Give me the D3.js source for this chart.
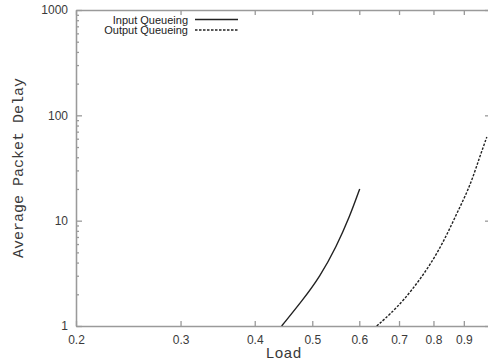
<!DOCTYPE html>
<html>
<head>
<meta charset="utf-8">
<script src="https://cdn.jsdelivr.net/npm/d3@7"></script>
<style>
  body { margin: 0; background: #fff; }
  svg { display: block; }
  .tick text { font-family: "Liberation Sans", Arial, sans-serif; font-size: 12px; fill: #3a3a3a; }
  .axis path, .axis line { stroke: #9a9a9a; stroke-width: 1.3; }
  .title { font-family: "Courier New", "Liberation Mono", monospace; font-size: 15px; fill: #3a3a3a; }
  .legend { font-family: "Liberation Sans", Arial, sans-serif; font-size: 11px; fill: #222; }
</style>
</head>
<body>
<div id="chart"></div>
<script>
// values
let inputLoad = [0.444, 0.482, 0.515, 0.549, 0.578, 0.601]
let inputDelay = [1, 1.77, 2.94, 5.66, 10.9, 20]

let outputLoad = [0.642, 0.71, 0.81, 0.876, 0.921, 0.957, 0.984]
let outputDelay = [1, 1.65, 4.52, 11.8, 20.9, 40.3, 62.3]

let xTicks = [0.2, 0.3, 0.4, 0.5, 0.6, 0.7, 0.8, 0.9]
let yTicks = [1, 10, 100, 1000]
let seriesNames = ['Input Queueing', 'Output Queueing']

let width = 488
let height = 364
let plotLeft = 76, plotRight = 491, plotTop = 10, plotBottom = 326

let svg = d3.select('#chart').append('svg')
  .attr('width', width)
  .attr('height', height)

let x = d3.scaleLog().domain([0.2, 1]).range([plotLeft, plotRight])
let y = d3.scaleLog().domain([1, 1000]).range([plotBottom, plotTop])

// minor y ticks 2..9 in each decade
let yMinor = []
for (let d = 1; d < 1000; d *= 10) {
  for (let k = 2; k <= 9; k++) yMinor.push(d * k)
}

// bottom axis
svg.append('g')
  .attr('class', 'axis')
  .attr('transform', 'translate(0,' + plotBottom + ')')
  .call(d3.axisBottom(x).tickValues(xTicks).tickFormat(d3.format('.1f'))
    .tickSize(-5).tickSizeOuter(0).tickPadding(9))

// top axis (ticks only)
svg.append('g')
  .attr('class', 'axis')
  .attr('transform', 'translate(0,' + plotTop + ')')
  .call(d3.axisTop(x).tickValues(xTicks).tickFormat('').tickSize(-5).tickSizeOuter(0))

// left axis
svg.append('g')
  .attr('class', 'axis')
  .attr('transform', 'translate(' + plotLeft + ',0)')
  .call(d3.axisLeft(y).tickValues(yTicks).tickFormat(d3.format('d'))
    .tickSize(-6).tickSizeOuter(0).tickPadding(8))

svg.append('g')
  .attr('class', 'axis')
  .attr('transform', 'translate(' + plotLeft + ',0)')
  .call(d3.axisLeft(y).tickValues(yMinor).tickFormat('').tickSize(-3).tickSizeOuter(0))

// right axis
svg.append('g')
  .attr('class', 'axis')
  .attr('transform', 'translate(' + plotRight + ',0)')
  .call(d3.axisRight(y).tickValues(yTicks).tickFormat('').tickSize(-6).tickSizeOuter(0))

svg.append('g')
  .attr('class', 'axis')
  .attr('transform', 'translate(' + plotRight + ',0)')
  .call(d3.axisRight(y).tickValues(yMinor).tickFormat('').tickSize(-3).tickSizeOuter(0))

// clip for curves
svg.append('clipPath').attr('id', 'plot')
  .append('rect')
  .attr('x', plotLeft).attr('y', plotTop)
  .attr('width', plotRight - plotLeft).attr('height', plotBottom - plotTop)

let line = d3.line()
  .x((d) => x(d[0]))
  .y((d) => y(d[1]))
  .curve(d3.curveBasis)

svg.append('path')
  .datum(d3.zip(inputLoad, inputDelay))
  .attr('d', line)
  .attr('fill', 'none')
  .attr('stroke', '#222')
  .attr('stroke-width', 1.4)
  .attr('clip-path', 'url(#plot)')

svg.append('path')
  .datum(d3.zip(outputLoad, outputDelay))
  .attr('d', line)
  .attr('fill', 'none')
  .attr('stroke', '#222')
  .attr('stroke-width', 1.4)
  .attr('stroke-dasharray', '2.5,1.5')
  .attr('clip-path', 'url(#plot)')

// legend
seriesNames.forEach((name, i) => {
  let ly = 19.5 + i * 10.5
  svg.append('text')
    .attr('class', 'legend')
    .attr('x', 188)
    .attr('y', ly + 4)
    .attr('text-anchor', 'end')
    .text(name)
  svg.append('line')
    .attr('x1', 195).attr('x2', 238)
    .attr('y1', ly).attr('y2', ly)
    .attr('stroke', '#222')
    .attr('stroke-width', 1.4)
    .attr('stroke-dasharray', i ? '2.5,1.5' : null)
})

// axis titles
svg.append('text')
  .attr('class', 'title')
  .attr('x', (plotLeft + plotRight) / 2)
  .attr('y', 358)
  .attr('text-anchor', 'middle')
  .text('Load')

svg.append('text')
  .attr('class', 'title')
  .attr('transform', 'translate(23,' + ((plotTop + plotBottom) / 2) + ') rotate(-90)')
  .attr('text-anchor', 'middle')
  .text('Average Packet Delay')
</script>
</body>
</html>
